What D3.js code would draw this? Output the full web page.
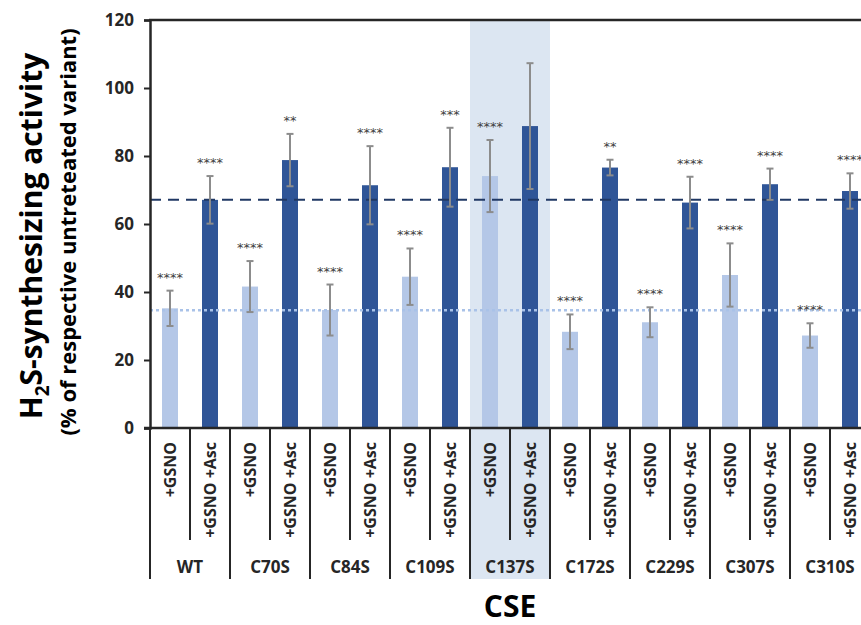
<!DOCTYPE html>
<html>
<head>
<meta charset="utf-8">
<script src="https://cdn.jsdelivr.net/npm/d3@7"></script>
<style>
  body { margin: 0; background: #fff; }
  svg { display: block; font-family: "Open Sans", Lato, sans-serif; }
</style>
</head>
<body>
<div id="chart"></div>
<script>
// data
const variants = ['WT', 'C70S', 'C84S', 'C109S', 'C137S', 'C172S', 'C229S', 'C307S', 'C310S'];
const treatments = ['+GSNO', '+GSNO +Asc'];
const gsnoMean = [35.2, 41.6, 34.7, 44.5, 74.1, 28.3, 31.1, 45.0, 27.2];
const gsnoErr  = [5.2, 7.5, 7.5, 8.3, 10.6, 5.1, 4.4, 9.3, 3.6];
const ascMean  = [67.1, 78.8, 71.4, 76.7, 88.8, 76.6, 66.3, 71.7, 69.7];
const ascErr   = [7.0, 7.7, 11.5, 11.6, 18.5, 2.3, 7.6, 4.6, 5.2];
const gsnoStars = ['****', '****', '****', '****', '****', '****', '****', '****', '****'];
const ascStars  = ['****', '**', '****', '***', '', '**', '****', '****', '****'];
const yTicks = [0, 20, 40, 60, 80, 100, 120];
const refGsno = 34.6;   // dotted line
const refAsc = 67.1;    // dashed line
const highlighted = 'C137S';

const width = 861, height = 625;
const margin = { top: 20, left: 150 };
const plotRight = 870;      // the figure is cut at the right edge
const baseY = 428;

const svg = d3.select('#chart').append('svg')
  .attr('width', width)
  .attr('height', height);

const x = d3.scaleBand()
  .domain(variants)
  .range([margin.left, plotRight]);

const xSub = d3.scaleBand()
  .domain(treatments)
  .range([0, x.bandwidth()])
  .paddingInner(0.6)
  .paddingOuter(0.3);

const y = d3.scaleLinear()
  .domain([0, 120])
  .range([baseY, margin.top]);

// highlighted group background
svg.append('rect')
  .attr('x', x(highlighted))
  .attr('y', margin.top)
  .attr('width', x.bandwidth())
  .attr('height', 579 - margin.top)
  .attr('fill', '#dce6f2');

// rows of bars
const rows = variants.map((v, i) => [
  { v, t: treatments[0], mean: gsnoMean[i], err: gsnoErr[i], stars: gsnoStars[i], color: '#b4c7e7' },
  { v, t: treatments[1], mean: ascMean[i], err: ascErr[i], stars: ascStars[i], color: '#2f5597' }
]).flat();

svg.append('g').selectAll('rect')
  .data(rows)
  .join('rect')
  .attr('x', d => x(d.v) + xSub(d.t))
  .attr('y', d => y(d.mean))
  .attr('width', xSub.bandwidth())
  .attr('height', d => y(0) - y(d.mean))
  .attr('fill', d => d.color);

// reference lines
svg.append('line')
  .attr('x1', margin.left).attr('x2', width)
  .attr('y1', y(refGsno)).attr('y2', y(refGsno))
  .attr('stroke', '#a9c2e8').attr('stroke-width', 2.5)
  .attr('stroke-dasharray', '3,3');

svg.append('line')
  .attr('x1', margin.left).attr('x2', width)
  .attr('y1', y(refAsc)).attr('y2', y(refAsc))
  .attr('stroke', '#203864').attr('stroke-width', 2)
  .attr('stroke-dasharray', '11,7');

// error bars
const eb = svg.append('g').attr('stroke', '#8c8c8c').attr('stroke-width', 2);
rows.forEach(d => {
  const cx = x(d.v) + xSub(d.t) + xSub.bandwidth() / 2;
  eb.append('line').attr('x1', cx).attr('x2', cx)
    .attr('y1', y(d.mean + d.err)).attr('y2', y(d.mean - d.err));
  [d.mean + d.err, d.mean - d.err].forEach(val => {
    eb.append('line').attr('x1', cx - 3.5).attr('x2', cx + 3.5)
      .attr('y1', y(val)).attr('y2', y(val));
  });
});

// significance stars
svg.append('g').selectAll('text')
  .data(rows.filter(d => d.stars))
  .join('text')
  .attr('x', d => x(d.v) + xSub(d.t) + xSub.bandwidth() / 2)
  .attr('y', d => y(d.mean + d.err) - 9)
  .attr('text-anchor', 'middle')
  .style('font-family', '"DejaVu Sans", sans-serif')
  .style('font-size', '13px')
  .style('fill', '#404040')
  .text(d => d.stars);

// y axis
const yAxis = svg.append('g')
  .attr('transform', `translate(${margin.left},0)`)
  .call(d3.axisLeft(y).tickValues(yTicks).tickSize(6).tickPadding(10));
yAxis.select('.domain').attr('stroke', '#262626').attr('stroke-width', 2.5);
yAxis.selectAll('.tick line').attr('stroke', '#262626').attr('stroke-width', 2);
yAxis.selectAll('text')
  .style('font-family', '"Open Sans", sans-serif')
  .style('font-size', '17px').style('font-weight', 'bold').attr('fill', '#262626');

// top frame line
svg.append('line')
  .attr('x1', margin.left - 1).attr('x2', width)
  .attr('y1', margin.top).attr('y2', margin.top)
  .attr('stroke', '#262626').attr('stroke-width', 2.5);

// x axis line
svg.append('line')
  .attr('x1', margin.left - 6).attr('x2', width)
  .attr('y1', baseY).attr('y2', baseY)
  .attr('stroke', '#262626').attr('stroke-width', 2.5);

// group separators and sub separators
const sep = svg.append('g').attr('stroke', '#262626').attr('stroke-width', 2);
variants.forEach(v => {
  sep.append('line').attr('x1', x(v)).attr('x2', x(v)).attr('y1', baseY).attr('y2', 579);
  sep.append('line').attr('x1', x(v) + x.bandwidth() / 2).attr('x2', x(v) + x.bandwidth() / 2)
    .attr('y1', baseY).attr('y2', 540);
});

// treatment labels (rotated)
svg.append('g').selectAll('text')
  .data(rows)
  .join('text')
  .attr('transform', d => `translate(${x(d.v) + xSub(d.t) + xSub.bandwidth() / 2 + 6},442) rotate(-90)`)
  .attr('text-anchor', 'end')
  .style('font-size', '16px')
  .style('font-weight', 'bold')
  .attr('fill', '#262626')
  .text(d => d.t);

// variant labels
svg.append('g').selectAll('text')
  .data(variants)
  .join('text')
  .attr('x', d => x(d) + x.bandwidth() / 2)
  .attr('y', 573)
  .attr('text-anchor', 'middle')
  .style('font-size', '17px')
  .style('font-weight', 'bold')
  .attr('fill', '#262626')
  .text(d => d);

// x title
svg.append('text')
  .attr('x', (margin.left + plotRight) / 2)
  .attr('y', 617)
  .attr('text-anchor', 'middle')
  .style('font-size', '30px')
  .style('font-weight', 'bold')
  .text('CSE');

// y title
const yt = svg.append('text')
  .attr('transform', 'translate(42,236) rotate(-90)')
  .attr('text-anchor', 'middle')
  .style('font-size', '30px')
  .style('font-weight', 'bold');
yt.append('tspan').text('H');
yt.append('tspan').text('2').style('font-size', '19px').attr('dy', 7);
yt.append('tspan').text('S-synthesizing activity').attr('dy', -7);

svg.append('text')
  .attr('transform', 'translate(76,232) rotate(-90)')
  .attr('text-anchor', 'middle')
  .style('font-size', '22px')
  .style('font-weight', 'bold')
  .text('(% of respective untreteated variant)');
</script>
</body>
</html>
